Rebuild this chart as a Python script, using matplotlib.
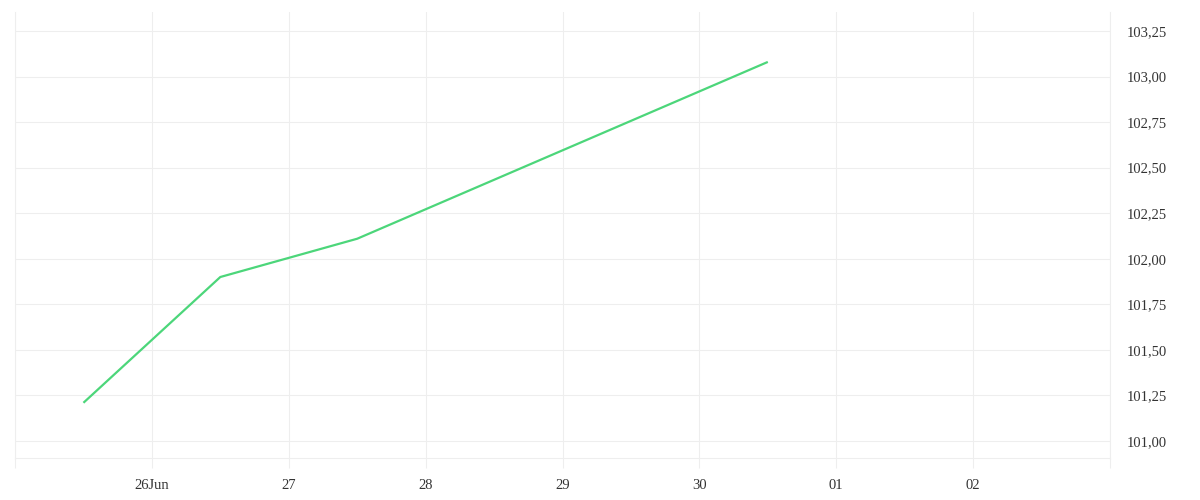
import matplotlib.pyplot as plt
import matplotlib.dates as mdates
import numpy as np
from datetime import datetime

# data
fechas = ["2025-06-25 12:00", "2025-06-26 12:00", "2025-06-27 12:00", "2025-06-30 12:00"]
valores = [101.21, 101.90, 102.11, 103.08]

dias_ticks = ["2025-06-25", "2025-06-26", "2025-06-27", "2025-06-28", "2025-06-29",
              "2025-06-30", "2025-07-01", "2025-07-02", "2025-07-03"]
etiquetas_x = ["", "26Jun", "27", "28", "29", "30", "01", "02", ""]
y_ticks = [101.00, 101.25, 101.50, 101.75, 102.00, 102.25, 102.50, 102.75, 103.00, 103.25]

grid_color = "#eeeeee"
text_color = "#333333"
line_color = "#4cd67a"

plt.rcParams["font.family"] = ["Liberation Serif", "DejaVu Serif"]

x = [datetime.strptime(f, "%Y-%m-%d %H:%M") for f in fechas]
xt = [datetime.strptime(d, "%Y-%m-%d") for d in dias_ticks]

fig = plt.figure(figsize=(12, 5), dpi=100)
ax = fig.add_axes([0.0125, 0.084, 0.9125, 0.892])

ax.plot(x, valores, color=line_color, linewidth=1.6, zorder=3, solid_capstyle="butt")

ax.set_xlim(xt[0], xt[-1])
ax.set_ylim(100.907, 103.354)

ax.set_xticks(xt)
ax.set_xticklabels(etiquetas_x)
ax.set_yticks(y_ticks)
ax.set_yticklabels([f"{v:.2f}".replace(".", ",") for v in y_ticks])
ax.yaxis.tick_right()

ax.tick_params(axis="x", length=7.2, width=0.8, color=grid_color, labelcolor=text_color,
               labelsize=10.5, pad=8)
ax.tick_params(axis="y", length=0, labelsize=10.5, labelcolor=text_color, pad=12)

ax.grid(True, color=grid_color, linewidth=0.8, zorder=0)
for lado in ["left", "right", "bottom"]:
    ax.spines[lado].set_color(grid_color)
    ax.spines[lado].set_linewidth(0.8)
ax.spines["top"].set_visible(False)

fig.savefig("out.png", dpi=100)
